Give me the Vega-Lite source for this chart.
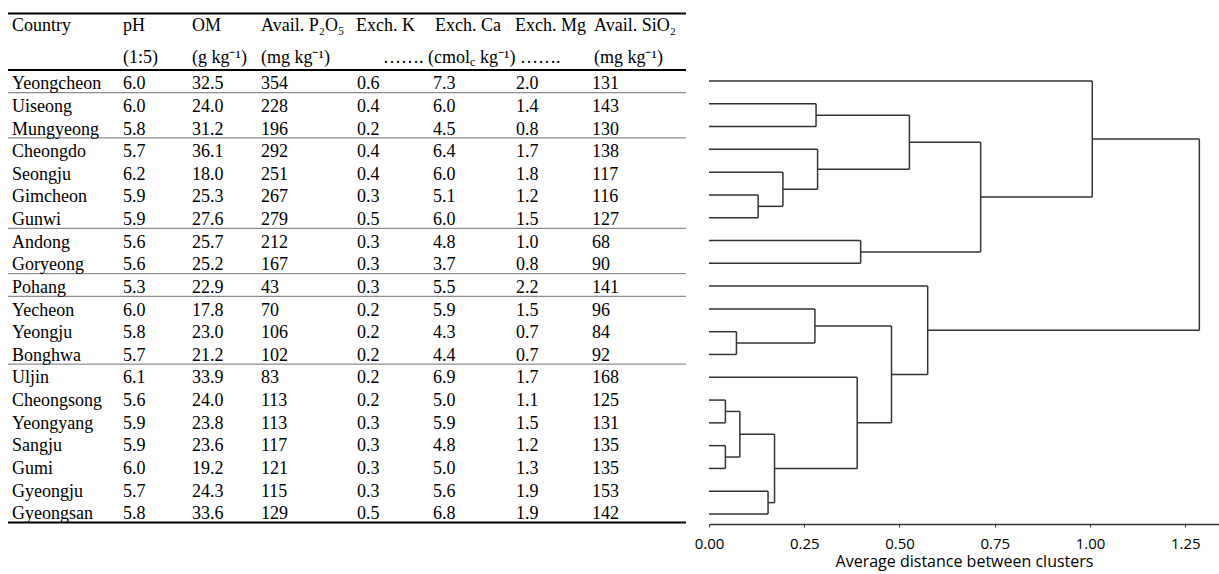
{
  "$schema": "https://vega.github.io/schema/vega-lite/v6.json",
  "padding": {"left": 0, "top": 0, "right": 0, "bottom": 5},
  "spacing": 0,
  "bounds": "flush",
  "config": {
    "view": {"stroke": null},
    "text": {"font": "Liberation Serif", "fontSize": 18, "align": "left", "baseline": "alphabetic", "color": "black", "dy": 8}
  },
  "datasets": {
    "soil": [
      {"order": 0, "Country": "Yeongcheon", "pH": 6.0, "OM": 32.5, "P2O5": 354, "K": 0.6, "Ca": 7.3, "Mg": 2.0, "SiO2": 131},
      {"order": 1, "Country": "Uiseong", "pH": 6.0, "OM": 24.0, "P2O5": 228, "K": 0.4, "Ca": 6.0, "Mg": 1.4, "SiO2": 143},
      {"order": 2, "Country": "Mungyeong", "pH": 5.8, "OM": 31.2, "P2O5": 196, "K": 0.2, "Ca": 4.5, "Mg": 0.8, "SiO2": 130},
      {"order": 3, "Country": "Cheongdo", "pH": 5.7, "OM": 36.1, "P2O5": 292, "K": 0.4, "Ca": 6.4, "Mg": 1.7, "SiO2": 138},
      {"order": 4, "Country": "Seongju", "pH": 6.2, "OM": 18.0, "P2O5": 251, "K": 0.4, "Ca": 6.0, "Mg": 1.8, "SiO2": 117},
      {"order": 5, "Country": "Gimcheon", "pH": 5.9, "OM": 25.3, "P2O5": 267, "K": 0.3, "Ca": 5.1, "Mg": 1.2, "SiO2": 116},
      {"order": 6, "Country": "Gunwi", "pH": 5.9, "OM": 27.6, "P2O5": 279, "K": 0.5, "Ca": 6.0, "Mg": 1.5, "SiO2": 127},
      {"order": 7, "Country": "Andong", "pH": 5.6, "OM": 25.7, "P2O5": 212, "K": 0.3, "Ca": 4.8, "Mg": 1.0, "SiO2": 68},
      {"order": 8, "Country": "Goryeong", "pH": 5.6, "OM": 25.2, "P2O5": 167, "K": 0.3, "Ca": 3.7, "Mg": 0.8, "SiO2": 90},
      {"order": 9, "Country": "Pohang", "pH": 5.3, "OM": 22.9, "P2O5": 43, "K": 0.3, "Ca": 5.5, "Mg": 2.2, "SiO2": 141},
      {"order": 10, "Country": "Yecheon", "pH": 6.0, "OM": 17.8, "P2O5": 70, "K": 0.2, "Ca": 5.9, "Mg": 1.5, "SiO2": 96},
      {"order": 11, "Country": "Yeongju", "pH": 5.8, "OM": 23.0, "P2O5": 106, "K": 0.2, "Ca": 4.3, "Mg": 0.7, "SiO2": 84},
      {"order": 12, "Country": "Bonghwa", "pH": 5.7, "OM": 21.2, "P2O5": 102, "K": 0.2, "Ca": 4.4, "Mg": 0.7, "SiO2": 92},
      {"order": 13, "Country": "Uljin", "pH": 6.1, "OM": 33.9, "P2O5": 83, "K": 0.2, "Ca": 6.9, "Mg": 1.7, "SiO2": 168},
      {"order": 14, "Country": "Cheongsong", "pH": 5.6, "OM": 24.0, "P2O5": 113, "K": 0.2, "Ca": 5.0, "Mg": 1.1, "SiO2": 125},
      {"order": 15, "Country": "Yeongyang", "pH": 5.9, "OM": 23.8, "P2O5": 113, "K": 0.3, "Ca": 5.9, "Mg": 1.5, "SiO2": 131},
      {"order": 16, "Country": "Sangju", "pH": 5.9, "OM": 23.6, "P2O5": 117, "K": 0.3, "Ca": 4.8, "Mg": 1.2, "SiO2": 135},
      {"order": 17, "Country": "Gumi", "pH": 6.0, "OM": 19.2, "P2O5": 121, "K": 0.3, "Ca": 5.0, "Mg": 1.3, "SiO2": 135},
      {"order": 18, "Country": "Gyeongju", "pH": 5.7, "OM": 24.3, "P2O5": 115, "K": 0.3, "Ca": 5.6, "Mg": 1.9, "SiO2": 153},
      {"order": 19, "Country": "Gyeongsan", "pH": 5.8, "OM": 33.6, "P2O5": 129, "K": 0.5, "Ca": 6.8, "Mg": 1.9, "SiO2": 142}
    ],
    "merges": [
      {"node": 1, "left_y": 5, "right_y": 6, "left_d": 0, "right_d": 0, "height": 0.129},
      {"node": 2, "left_y": 4, "right_y": 5.5, "left_d": 0, "right_d": 0.129, "height": 0.194},
      {"node": 3, "left_y": 3, "right_y": 4.75, "left_d": 0, "right_d": 0.194, "height": 0.285},
      {"node": 4, "left_y": 1, "right_y": 2, "left_d": 0, "right_d": 0, "height": 0.281},
      {"node": 5, "left_y": 1.5, "right_y": 3.875, "left_d": 0.281, "right_d": 0.285, "height": 0.526},
      {"node": 6, "left_y": 7, "right_y": 8, "left_d": 0, "right_d": 0, "height": 0.398},
      {"node": 7, "left_y": 2.6875, "right_y": 7.5, "left_d": 0.526, "right_d": 0.398, "height": 0.713},
      {"node": 8, "left_y": 0, "right_y": 5.094, "left_d": 0, "right_d": 0.713, "height": 1.006},
      {"node": 9, "left_y": 11, "right_y": 12, "left_d": 0, "right_d": 0, "height": 0.072},
      {"node": 10, "left_y": 10, "right_y": 11.5, "left_d": 0, "right_d": 0.072, "height": 0.278},
      {"node": 11, "left_y": 14, "right_y": 15, "left_d": 0, "right_d": 0, "height": 0.043},
      {"node": 12, "left_y": 16, "right_y": 17, "left_d": 0, "right_d": 0, "height": 0.043},
      {"node": 13, "left_y": 14.5, "right_y": 16.5, "left_d": 0.043, "right_d": 0.043, "height": 0.081},
      {"node": 14, "left_y": 18, "right_y": 19, "left_d": 0, "right_d": 0, "height": 0.155},
      {"node": 15, "left_y": 15.5, "right_y": 18.5, "left_d": 0.081, "right_d": 0.155, "height": 0.172},
      {"node": 16, "left_y": 13, "right_y": 17, "left_d": 0, "right_d": 0.172, "height": 0.389},
      {"node": 17, "left_y": 10.75, "right_y": 15, "left_d": 0.278, "right_d": 0.389, "height": 0.479},
      {"node": 18, "left_y": 9, "right_y": 12.875, "left_d": 0, "right_d": 0.479, "height": 0.574},
      {"node": 19, "left_y": 2.547, "right_y": 10.9375, "left_d": 1.006, "right_d": 0.574, "height": 1.287}
    ]
  },
  "hconcat": [
    {
      "width": 709,
      "height": 524,
      "data": {"name": "soil"},
      "layer": [
        {"data": {"values": [{}]}, "mark": {"type": "rule", "color": "black", "strokeWidth": 2}, "encoding": {
          "x": {"datum": 8, "type": "quantitative", "scale": {"domain": [0, 709], "nice": false, "zero": false}, "axis": null},
          "x2": {"datum": 686},
          "y": {"datum": -3.0, "type": "quantitative", "scale": {"domain": [-3.593, 19.563], "reverse": true, "nice": false, "zero": false}, "axis": null}}},
        {"data": {"values": [{}]}, "mark": {"type": "rule", "color": "black", "strokeWidth": 2}, "encoding": {"x": {"datum": 8, "type": "quantitative", "axis": null}, "x2": {"datum": 686}, "y": {"datum": -0.5, "type": "quantitative", "axis": null}}},
        {"data": {"values": [{}]}, "mark": {"type": "rule", "color": "black", "strokeWidth": 2}, "encoding": {"x": {"datum": 8, "type": "quantitative", "axis": null}, "x2": {"datum": 686}, "y": {"datum": 19.5, "type": "quantitative", "axis": null}}},
        {"data": {"values": [{}]}, "mark": {"type": "rule", "color": "#8c8c8c", "strokeWidth": 1.2}, "encoding": {"x": {"datum": 8, "type": "quantitative", "axis": null}, "x2": {"datum": 686}, "y": {"datum": 0.5, "type": "quantitative", "axis": null}}},
        {"data": {"values": [{}]}, "mark": {"type": "rule", "color": "#8c8c8c", "strokeWidth": 1.2}, "encoding": {"x": {"datum": 8, "type": "quantitative", "axis": null}, "x2": {"datum": 686}, "y": {"datum": 2.5, "type": "quantitative", "axis": null}}},
        {"data": {"values": [{}]}, "mark": {"type": "rule", "color": "#8c8c8c", "strokeWidth": 1.2}, "encoding": {"x": {"datum": 8, "type": "quantitative", "axis": null}, "x2": {"datum": 686}, "y": {"datum": 6.5, "type": "quantitative", "axis": null}}},
        {"data": {"values": [{}]}, "mark": {"type": "rule", "color": "#8c8c8c", "strokeWidth": 1.2}, "encoding": {"x": {"datum": 8, "type": "quantitative", "axis": null}, "x2": {"datum": 686}, "y": {"datum": 8.5, "type": "quantitative", "axis": null}}},
        {"data": {"values": [{}]}, "mark": {"type": "rule", "color": "#8c8c8c", "strokeWidth": 1.2}, "encoding": {"x": {"datum": 8, "type": "quantitative", "axis": null}, "x2": {"datum": 686}, "y": {"datum": 9.5, "type": "quantitative", "axis": null}}},
        {"data": {"values": [{}]}, "mark": {"type": "rule", "color": "#8c8c8c", "strokeWidth": 1.2}, "encoding": {"x": {"datum": 8, "type": "quantitative", "axis": null}, "x2": {"datum": 686}, "y": {"datum": 12.5, "type": "quantitative", "axis": null}}},

        {"mark": {"type": "text"}, "encoding": {"x": {"datum": 12, "type": "quantitative", "axis": null}, "y": {"field": "order", "type": "quantitative", "axis": null}, "text": {"field": "Country", "type": "nominal"}}},
        {"mark": {"type": "text"}, "encoding": {"x": {"datum": 123, "type": "quantitative", "axis": null}, "y": {"field": "order", "type": "quantitative", "axis": null}, "text": {"field": "pH", "type": "quantitative", "format": ".1f"}}},
        {"mark": {"type": "text"}, "encoding": {"x": {"datum": 192, "type": "quantitative", "axis": null}, "y": {"field": "order", "type": "quantitative", "axis": null}, "text": {"field": "OM", "type": "quantitative", "format": ".1f"}}},
        {"mark": {"type": "text"}, "encoding": {"x": {"datum": 261, "type": "quantitative", "axis": null}, "y": {"field": "order", "type": "quantitative", "axis": null}, "text": {"field": "P2O5", "type": "quantitative", "format": "d"}}},
        {"mark": {"type": "text"}, "encoding": {"x": {"datum": 357, "type": "quantitative", "axis": null}, "y": {"field": "order", "type": "quantitative", "axis": null}, "text": {"field": "K", "type": "quantitative", "format": ".1f"}}},
        {"mark": {"type": "text"}, "encoding": {"x": {"datum": 433, "type": "quantitative", "axis": null}, "y": {"field": "order", "type": "quantitative", "axis": null}, "text": {"field": "Ca", "type": "quantitative", "format": ".1f"}}},
        {"mark": {"type": "text"}, "encoding": {"x": {"datum": 516, "type": "quantitative", "axis": null}, "y": {"field": "order", "type": "quantitative", "axis": null}, "text": {"field": "Mg", "type": "quantitative", "format": ".1f"}}},
        {"mark": {"type": "text"}, "encoding": {"x": {"datum": 592, "type": "quantitative", "axis": null}, "y": {"field": "order", "type": "quantitative", "axis": null}, "text": {"field": "SiO2", "type": "quantitative", "format": "d"}}},

        {"data": {"values": [{}]}, "mark": {"type": "text", "text": "Country"}, "encoding": {"x": {"datum": 12, "type": "quantitative", "axis": null}, "y": {"datum": -2.59, "type": "quantitative", "axis": null}}},
        {"data": {"values": [{}]}, "mark": {"type": "text", "text": "pH"}, "encoding": {"x": {"datum": 123, "type": "quantitative", "axis": null}, "y": {"datum": -2.59, "type": "quantitative", "axis": null}}},
        {"data": {"values": [{}]}, "mark": {"type": "text", "text": "OM"}, "encoding": {"x": {"datum": 192, "type": "quantitative", "axis": null}, "y": {"datum": -2.59, "type": "quantitative", "axis": null}}},
        {"data": {"values": [{}]}, "mark": {"type": "text", "text": "Avail. P₂O₅"}, "encoding": {"x": {"datum": 261, "type": "quantitative", "axis": null}, "y": {"datum": -2.59, "type": "quantitative", "axis": null}}},
        {"data": {"values": [{}]}, "mark": {"type": "text", "text": "Exch. K"}, "encoding": {"x": {"datum": 356, "type": "quantitative", "axis": null}, "y": {"datum": -2.59, "type": "quantitative", "axis": null}}},
        {"data": {"values": [{}]}, "mark": {"type": "text", "text": "Exch. Ca"}, "encoding": {"x": {"datum": 435, "type": "quantitative", "axis": null}, "y": {"datum": -2.59, "type": "quantitative", "axis": null}}},
        {"data": {"values": [{}]}, "mark": {"type": "text", "text": "Exch. Mg"}, "encoding": {"x": {"datum": 515, "type": "quantitative", "axis": null}, "y": {"datum": -2.59, "type": "quantitative", "axis": null}}},
        {"data": {"values": [{}]}, "mark": {"type": "text", "text": "Avail. SiO₂"}, "encoding": {"x": {"datum": 594, "type": "quantitative", "axis": null}, "y": {"datum": -2.59, "type": "quantitative", "axis": null}}},

        {"data": {"values": [{}]}, "mark": {"type": "text", "text": "(1:5)"}, "encoding": {"x": {"datum": 123, "type": "quantitative", "axis": null}, "y": {"datum": -1.15, "type": "quantitative", "axis": null}}},
        {"data": {"values": [{}]}, "mark": {"type": "text", "text": "(g kg⁻¹)"}, "encoding": {"x": {"datum": 192, "type": "quantitative", "axis": null}, "y": {"datum": -1.15, "type": "quantitative", "axis": null}}},
        {"data": {"values": [{}]}, "mark": {"type": "text", "text": "(mg kg⁻¹)"}, "encoding": {"x": {"datum": 261, "type": "quantitative", "axis": null}, "y": {"datum": -1.15, "type": "quantitative", "axis": null}}},
        {"data": {"values": [{}]}, "mark": {"type": "text", "text": "……. (cmol", "align": "right"}, "encoding": {"x": {"datum": 470, "type": "quantitative", "axis": null}, "y": {"datum": -1.15, "type": "quantitative", "axis": null}}},
        {"data": {"values": [{}]}, "mark": {"type": "text", "text": "c", "fontSize": 12}, "encoding": {"x": {"datum": 470, "type": "quantitative", "axis": null}, "y": {"datum": -1.02, "type": "quantitative", "axis": null}}},
        {"data": {"values": [{}]}, "mark": {"type": "text", "text": "kg⁻¹) …….", "align": "left"}, "encoding": {"x": {"datum": 480, "type": "quantitative", "axis": null}, "y": {"datum": -1.15, "type": "quantitative", "axis": null}}},
        {"data": {"values": [{}]}, "mark": {"type": "text", "text": "(mg kg⁻¹)"}, "encoding": {"x": {"datum": 594, "type": "quantitative", "axis": null}, "y": {"datum": -1.15, "type": "quantitative", "axis": null}}}
      ]
    },
    {
      "width": 510,
      "height": 524,
      "data": {"name": "merges"},
      "layer": [
        {"mark": {"type": "rule", "color": "#333333", "strokeWidth": 1.5}, "encoding": {
          "x": {"field": "height", "type": "quantitative", "scale": {"domain": [0, 1.3386], "nice": false, "zero": false},
            "axis": {"title": "Average distance between clusters", "values": [0, 0.25, 0.5, 0.75, 1, 1.25], "format": ".2f",
              "labelFont": "Open Sans", "labelFontSize": 15, "labelColor": "black", "labelFlush": false, "labelOverlap": false, "labelPadding": 9,
              "titleFont": "Open Sans", "titleFontSize": 16, "titleFontWeight": "normal", "titleColor": "black", "titlePadding": 2,
              "domainColor": "#333333", "domainWidth": 1.5, "tickColor": "#333333", "tickSize": 3, "grid": false}},
          "y": {"field": "left_y", "type": "quantitative", "scale": {"domain": [-3.554, 19.438], "reverse": true, "nice": false, "zero": false}, "axis": null},
          "y2": {"field": "right_y"}}},
        {"mark": {"type": "rule", "color": "#333333", "strokeWidth": 1.5}, "encoding": {
          "x": {"field": "left_d", "type": "quantitative"},
          "x2": {"field": "height"},
          "y": {"field": "left_y", "type": "quantitative"}}},
        {"mark": {"type": "rule", "color": "#333333", "strokeWidth": 1.5}, "encoding": {
          "x": {"field": "right_d", "type": "quantitative"},
          "x2": {"field": "height"},
          "y": {"field": "right_y", "type": "quantitative"}}}
      ]
    }
  ]
}
